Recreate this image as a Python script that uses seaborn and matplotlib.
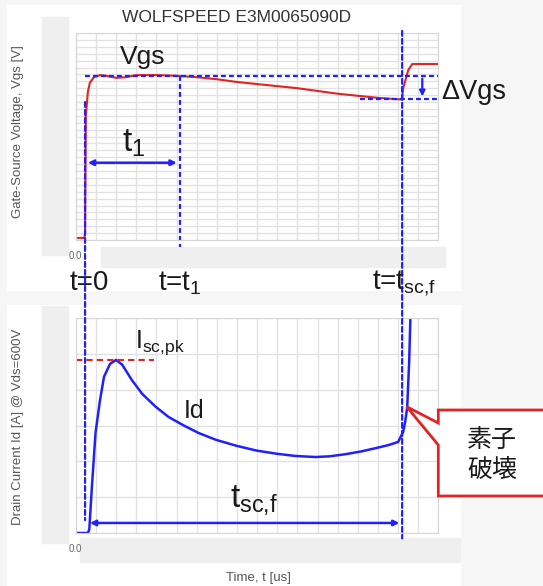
import numpy as np
import pandas as pd
import matplotlib.pyplot as plt
import seaborn as sns
from matplotlib.patches import Rectangle, Polygon, ConnectionPatch

sns.set_style("white")
plt.rcParams['font.family'] = ['Liberation Sans', 'Noto Sans CJK JP', 'DejaVu Sans']
plt.rcParams['mathtext.fontset'] = 'custom'
plt.rcParams['mathtext.rm'] = 'Liberation Sans'
plt.rcParams['mathtext.it'] = 'Liberation Sans'

# time in grid divisions
vgs_t = [0, 0.42, 0.46, 0.5, 0.6, 0.7, 0.9, 1.2, 1.5, 2.0, 2.5, 3.0, 4.0, 5.0, 6.0, 7.0, 8.0,
         9.0, 10.0, 11.0, 12.0, 13.0, 14.0, 15.0, 16.0, 16.2, 16.25, 16.35, 16.5, 16.7, 18.0]
vgs_v = [0.3, 0.3, 1.0, 18.0, 21.5, 22.8, 23.6, 23.9, 23.8, 23.5, 23.6, 23.9, 23.9, 23.8, 23.6, 23.3, 22.9,
         22.6, 22.3, 22.0, 21.6, 21.2, 20.9, 20.6, 20.4, 20.4, 22.0, 23.0, 24.6, 25.5, 25.5]

id_t = [0, 0.6, 0.67, 0.8, 0.98, 1.2, 1.4, 1.7, 2.0, 2.3, 2.78, 3.3, 3.97, 4.6, 5.36, 6.1, 6.96,
        8.0, 8.97, 10.0, 10.9, 11.9, 12.6, 13.4, 14.2, 14.9, 15.5, 16.0, 16.25, 16.35, 16.45, 16.55, 16.62]
id_v = [0, 0, 0.1, 1.3, 2.8, 3.7, 4.36, 4.72, 4.83, 4.7, 4.27, 3.88, 3.52, 3.24, 3.0, 2.79, 2.6,
        2.43, 2.3, 2.21, 2.15, 2.12, 2.14, 2.2, 2.28, 2.37, 2.45, 2.54, 2.82, 3.1, 3.5, 4.8, 6.2]

t0, t1, tsc = 0.46, 5.15, 16.2
vgs_on, vgs_end = 23.8, 20.4
isc_pk = 4.83

blue = '#2020ff'
red = '#e02424'
dash = (0, (2.2, 1.4))

fig = plt.figure(figsize=(5.43, 5.86), dpi=100, facecolor='#f6f6f6')
W, H = 543, 586

bg = fig.add_axes([0, 0, 1, 1], zorder=-5)
bg.set_xlim(0, W)
bg.set_ylim(H, 0)
bg.axis('off')
bg.add_patch(Rectangle((7, 5), 453, 285, color='white'))
bg.add_patch(Rectangle((7, 305), 453, 281, color='white'))
for r in [(41.5, 17, 26, 238), (101, 247, 344, 20), (41.5, 306, 26, 237), (80, 538, 380, 24)]:
    bg.add_patch(Rectangle(r[:2], r[2], r[3], color='#efefef'))


def grid_axes(rect, ymax):
    ax = fig.add_axes(rect)
    ax.set_xlim(0, 18)
    ax.set_ylim(0, ymax)
    ax.set_xticks(np.arange(0, 19, 1))
    ax.set_yticks(np.arange(0, ymax + 1, 1))
    ax.grid(True, color='#e2e2e2', lw=1.0)
    ax.tick_params(length=0, labelbottom=False, labelleft=False)
    for s in ax.spines.values():
        s.set_color('#d6d6d6')
    return ax


ax1 = grid_axes([75.8 / W, 1 - 240 / H, 362.6 / W, 207 / H], 30)
ax2 = grid_axes([75.8 / W, 1 - 533 / H, 362.6 / W, 215 / H], 6)

df_vgs = pd.DataFrame({'t': vgs_t, 'v': vgs_v})
df_id = pd.DataFrame({'t': id_t, 'i': id_v})
sns.lineplot(data=df_vgs, x='t', y='v', sort=False, estimator=None, color=red, lw=1.5, ax=ax1)
sns.lineplot(data=df_id, x='t', y='i', sort=False, estimator=None, color=blue, lw=1.8, ax=ax2)
ax2.set_ylim(0, 6)
for ax in (ax1, ax2):
    ax.set_xlabel('')
    ax.set_ylabel('')

# top annotations
ax1.plot([t0, 18], [vgs_on, vgs_on], color=blue, ls=dash, lw=1.6, clip_on=False)
ax1.plot([14.1, 18], [vgs_end, vgs_end], color=blue, ls=dash, lw=1.6, clip_on=False)
ax1.plot([t1, t1], [vgs_on, -1], color=blue, ls=dash, lw=1.6, clip_on=False)
ax1.annotate('', xy=(t0, 11.2), xytext=(t1, 11.2),
             arrowprops=dict(arrowstyle='<|-|>', color=blue, lw=1.8, mutation_scale=8))
ax1.annotate('', xy=(17.2, vgs_end), xytext=(17.2, vgs_on),
             arrowprops=dict(arrowstyle='-|>', color=blue, lw=1.6, mutation_scale=8))

# bottom annotations
ax2.plot([0, 3.9], [isc_pk, isc_pk], color=red, ls=(0, (3, 2)), lw=1.5, clip_on=False)
ax2.annotate('', xy=(t0 + 0.1, 0.28), xytext=(tsc, 0.28),
             arrowprops=dict(arrowstyle='<|-|>', color=blue, lw=1.8, mutation_scale=8))

# long verticals spanning both panels
fig.add_artist(ConnectionPatch(xyA=(t0, 20), coordsA=ax1.transData, xyB=(t0, 0.36), coordsB=ax2.transData,
                               color=blue, ls=dash, lw=1.6))
fig.add_artist(ConnectionPatch(xyA=(tsc, 30.3), coordsA=ax1.transData, xyB=(tsc, -0.15), coordsB=ax2.transData,
                               color=blue, ls=dash, lw=1.6))

ov = fig.add_axes([0, 0, 1, 1], zorder=10, facecolor='none')
ov.set_xlim(0, W)
ov.set_ylim(H, 0)
ov.axis('off')

dark = '#1a1a1a'
ov.text(237, 17, 'WOLFSPEED E3M0065090D', ha='center', va='center', fontsize=12.5, color='#333333')
ov.text(17.7, 132, 'Gate-Source Voltage, Vgs [V]', rotation=90, ha='center', va='center', fontsize=9.5, color='#555555')
ov.text(17.7, 427, 'Drain Current Id [A] @ Vds=600V', rotation=90, ha='center', va='center', fontsize=9.5, color='#555555')
ov.text(259, 578, 'Time, t [us]', ha='center', va='center', fontsize=9.5, color='#555555')
ov.text(75, 256, '0.0', ha='center', va='center', fontsize=7, color='#666666')
ov.text(75, 549, '0.0', ha='center', va='center', fontsize=7, color='#666666')

ov.text(119.5, 57, 'Vgs', ha='left', va='center', fontsize=19, color=dark)
ov.text(121.5, 143, r't$_{\mathregular{1}}$', ha='left', va='center', fontsize=24, color=dark)
ov.text(441.5, 92, 'ΔVgs', ha='left', va='center', fontsize=19.5, color=dark)
ov.text(89.3, 283, 't=0', ha='center', va='center', fontsize=20, color=dark)
ov.text(157.5, 283, r't=t$_{\mathregular{1}}$', ha='left', va='center', fontsize=20, color=dark)
ov.text(372, 283, r't=t$_{\mathregular{sc{,}f}}$', ha='left', va='center', fontsize=20, color=dark)

ov.text(135, 343, r'I$_{\mathregular{sc{,}pk}}$', ha='left', va='center', fontsize=18, color=dark)
ov.text(184, 411, 'Id', ha='left', va='center', fontsize=18, color=dark)
ov.text(229.5, 500, r't$_{\mathregular{sc{,}f}}$', ha='left', va='center', fontsize=24, color=dark)

ov.add_patch(Polygon([(560, 410), (438.3, 410), (438.3, 423), (406.7, 406.7), (438.3, 445), (438.3, 496), (560, 496)],
                     closed=False, fill=True, facecolor='white', edgecolor=red, lw=2, clip_on=False))
ov.text(492, 455, '素子\n破壊', ha='center', va='center', fontsize=18, color=dark, linespacing=1.3)

fig.savefig('out.png', dpi=100, facecolor=fig.get_facecolor())
